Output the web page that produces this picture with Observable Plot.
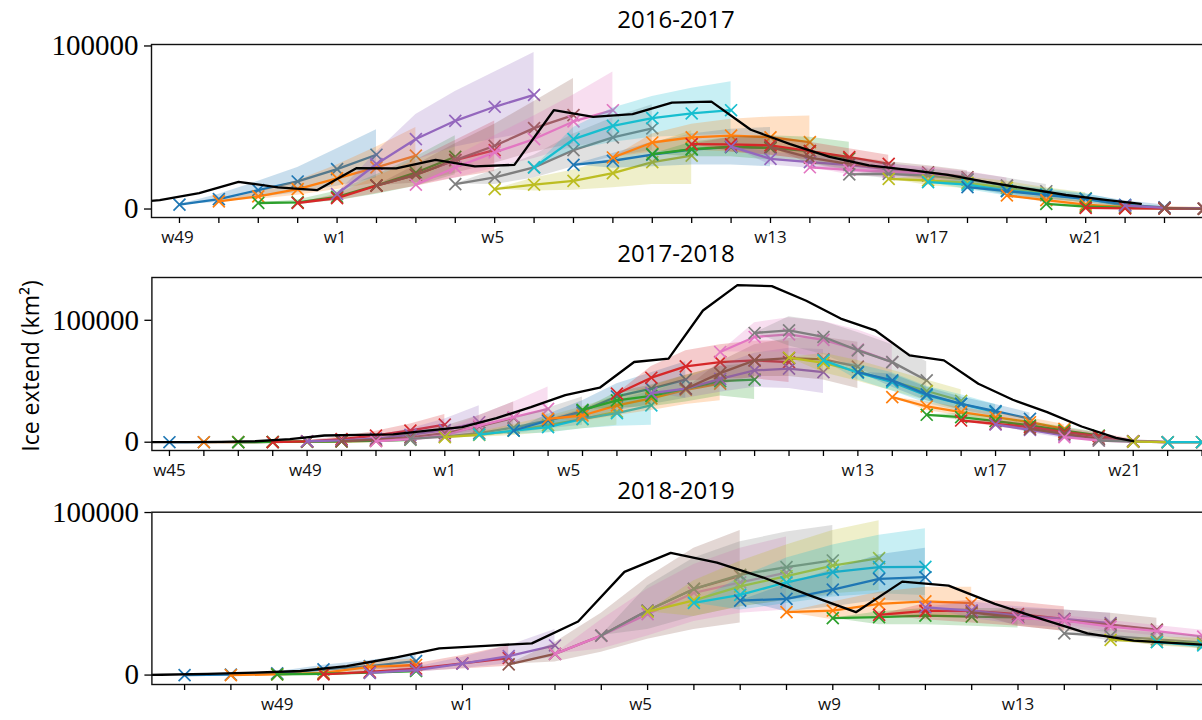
<!DOCTYPE html>
<html><head><meta charset="utf-8">
<script src="https://cdn.jsdelivr.net/npm/d3@7"></script>
<script src="https://cdn.jsdelivr.net/npm/@observablehq/plot@0.6"></script>
<style>
body{margin:0;background:#fff;}
#wrap{position:relative;width:1202px;height:720px;overflow:hidden;background:#fff;font-family:"Open Sans",sans-serif;}
.panel{position:absolute;left:0;}
.title{position:absolute;font-size:24px;color:#000;transform:translate(-50%,-50%);white-space:nowrap;line-height:1;}
.ylab{position:absolute;font-size:23px;color:#000;transform:translate(-50%,-50%) rotate(-90deg);white-space:nowrap;line-height:1;}
</style></head>
<body><div id="wrap"></div>
<script>
const TAB10 = ["#1f77b4","#ff7f0e","#2ca02c","#d62728","#9467bd","#8c564b","#e377c2","#7f7f7f","#bcbd22","#17becf"];
const titles = ["2016-2017","2017-2018","2018-2019"];
const yLabel = "Ice extend (km²)";
const yTicks = [0, 100000];

// ---------- 2016-2017 ----------
const p1Ticks = [0,1,2,3,4,5,6,7,8,9,10,11,12,13,14,15,16,17,18,19,20,21,22,23,24,25,26];
const p1Labels = ["w49","w1","w5","w13","w17","w21"];
const p1LabelPos = [-0.05, 3.95, 7.95, 15, 19.1, 23];
const p1ObsX = [-1.5,-0.5,0.5,1.5,2.5,3.5,4.5,5.5,6.5,7.5,8.5,9.5,10.5,11.5,12.5,13.5,14.5,15.5,16.5,17.5,18.5,19.5,20.5,21.5,22.5,23.5,24.4];
const p1ObsY = [3200,5500,9800,16700,13300,11600,25100,24900,30200,26100,27100,60600,56500,58200,65300,65900,48600,39800,32000,26800,24000,21000,16500,12500,8600,5600,3200];
const p1Starts = [0,1,2,3,4,5,6,7,8,9,10,11,12,13,14,15,16,17,18,19,20,21,22,23,24,25];
const p1Colors = [0,1,2,3,4,5,6,7,8,9,0,1,2,3,4,5,6,7,8,9,0,1,2,3,4,5];
const p1Mean = [
 [2700,6100,11600,16900,24500,33300],
 [4700,7800,12200,18800,25500,32700],
 [3700,4100,7500,14500,22400,32000],
 [3700,6700,14300,21000,30000,36100],
 [9200,27600,42900,54100,62700,70000],
 [14300,21000,30000,38800,49600,57600],
 [14900,25500,34700,42900,53700,60600],
 [15300,19400,25500,36100,43900,49400],
 [12200,14900,17300,22000,28800,32700],
 [25500,42900,51000,55700,58600,60600],
 [27100,29600,33300,36500,38000,37500],
 [31600,40800,44000,45000,44000,41000],
 [33700,36700,38200,37500,35500,31000],
 [39800,39600,39000,35500,31800,27700],
 [38300,30800,28700,27000,24500,21500],
 [38000,31500,27500,25000,22500,19500],
 [25600,24000,23000,21600,18500,14400],
 [21200,21500,20500,18000,14400,10900],
 [18500,17500,16000,13000,9500,6500],
 [16500,15000,11300,9000,6300,2100],
 [13400,11000,8500,6300,2500,1000],
 [8300,5500,2700,1200,500,300],
 [3200,1500,700,400,300,300],
 [700,400,300,300,300],
 [2100,700,300,300],
 [700,100,100]
];
const p1Hi = [
 [2700,9000,17000,25500,37000,48600],
 [4700,10500,17500,27000,38000,50000],
 [3700,5500,11000,21000,32000,45000],
 [3700,9000,20000,30000,42000,54000],
 [9200,35000,58000,72000,84000,96000],
 [14300,27000,40000,52000,66000,80000],
 [14900,32000,45000,57000,70000,84000],
 [15300,24000,33000,46000,56000,64000],
 [12200,19000,24000,31000,40000,48000],
 [25500,50000,62000,69000,74000,78000],
 [27100,34000,41000,46000,49000,50000],
 [31600,46000,52000,55000,56500,57000],
 [33700,41000,44000,45000,44000,41000],
 [39800,44000,45000,41000,37000,33000],
 [38300,35000,33000,31000,28000,25000],
 [38000,35500,32000,29000,26500,23500],
 [25600,27500,27000,26000,23000,19000],
 [21200,24500,24500,22500,19000,15000],
 [18500,20500,19500,17000,13000,10000],
 [16500,18000,15000,12500,9500,4500],
 [13400,13500,11500,9000,5000,2500],
 [8300,7500,4500,2500,1500,1000],
 [3200,2500,1500,1000,800,800],
 [700,900,800,800,800],
 [2100,1300,800,800],
 [700,500,500]
];
const p1Lo = [
 [2700,4000,7000,10000,14000,19000],
 [4700,6000,8500,12000,16000,20000],
 [3700,3000,5000,9000,14000,21000],
 [3700,5000,9500,14000,19000,23000],
 [9200,20000,30000,38000,43000,47000],
 [14300,16000,22000,28000,35000,40000],
 [14900,19000,25000,31000,38000,42000],
 [15300,15000,19000,26000,32000,36000],
 [12200,11000,11500,13000,15000,15000],
 [25500,36000,41000,44000,45000,46000],
 [27100,25000,26000,27000,27000,26000],
 [31600,35000,36000,35000,33000,30000],
 [33700,32000,32000,30000,28000,24000],
 [39800,35000,33000,30000,26500,22500],
 [38300,27000,25000,23000,21000,18000],
 [38000,27500,23500,21000,18500,15500],
 [25600,21000,19500,17500,14500,10500],
 [21200,18500,17000,14000,10500,7500],
 [18500,14500,12500,9500,6500,3500],
 [16500,12000,8000,6000,3500,500],
 [13400,8500,6000,4000,1000,0],
 [8300,3800,1500,500,0,0],
 [3200,800,200,0,0,0],
 [700,100,0,0,0],
 [2100,300,0,0],
 [700,0,0]
];

// ---------- 2017-2018 ----------
const p2Ticks = [0,1,2,3,4,5,6,7,8,9,10,11,12,13,14,15,16,17,18,19,20,21,22,23,24,25,26,27,28,29,30];
const p2Labels = ["w45","w49","w1","w5","w13","w17","w21"];
const p2LabelPos = [0, 3.95, 8, 11.6, 20, 23.85, 27.75];
const p2ObsX = [-1.5,-0.5,0.5,1.5,2.5,3.5,4.5,5.5,6.5,7.5,8.5,9.5,10.5,11.5,12.5,13.5,14.5,15.5,16.5,17.5,18.5,19.5,20.5,21.5,22.5,23.5,24.5,25.5,26.5,27.5,28];
const p2ObsY = [0,0,0,300,800,2500,5500,6000,6500,9500,12300,19700,28800,38600,44700,65800,68500,108000,128800,128000,116000,101400,91800,71200,67100,47900,34800,24700,12900,3500,800];
const p2Starts = [0,1,2,3,4,5,6,7,8,9,10,11,12,13,14,15,16,17,18,19,20,21,22,23,24,25,26,27,28,29];
const p2Colors = [0,1,2,3,4,5,6,7,8,9,0,1,2,3,4,5,6,7,8,9,0,1,2,3,4,5,6,7,8,9];
const p2Mean = [
 [0,0,100,200,400,700],
 [0,100,200,400,700,1200],
 [0,200,400,800,1200,2000],
 [0,700,2500,5500,9600,14500],
 [800,1500,3000,6000,10000,16400],
 [800,2000,4000,7500,13000,20000],
 [800,2500,5500,13700,20500,27400],
 [2700,4500,7500,12000,18000,24000],
 [4100,6000,9500,14000,19000,25000],
 [6300,9500,12300,19200,23800,30200],
 [9600,17800,25500,37500,43900,51300],
 [19200,21900,30200,36000,43000,48000],
 [26600,34300,38000,44000,50100,51300],
 [39800,52900,62200,65700,67100,65700],
 [40300,44000,52000,58900,60300,57500],
 [43900,56700,67100,69000,68000,62000],
 [74000,86300,88500,84000,76000,65700],
 [89600,91800,86300,75300,65700,50700],
 [69300,65000,58000,50000,42000,34000],
 [67100,57000,49300,38400,31500,24700],
 [57500,50700,39200,31500,25500,19200],
 [37000,29300,24700,20500,16400,11000],
 [22500,20500,17300,13700,9500,5500],
 [17800,15100,12300,8200,4900,800],
 [14500,10100,5500,2700,800,0],
 [11000,6800,2700,800,0,0],
 [4100,1400,500,0,0],
 [1400,500,0,0],
 [500,0,0,0],
 [0,0,0]
];
const p2Hi = [
 [0,200,400,700,1200,2000],
 [0,300,600,1100,1800,2800],
 [0,500,1100,2000,3000,4500],
 [0,1500,4500,9000,15000,22700],
 [800,2500,5500,11000,19000,30000],
 [800,3500,7000,13000,22000,33000],
 [800,4500,10000,22000,33000,45200],
 [2700,6500,11500,19000,28000,37000],
 [4100,8500,14500,21000,29000,38000],
 [6300,13000,18000,27000,34000,42000],
 [9600,23000,34000,48000,57000,66000],
 [19200,27000,38000,46000,55000,62000],
 [26600,41000,47000,55000,62000,65000],
 [39800,62000,75000,80000,83000,83000],
 [40300,52000,63000,73000,77000,76000],
 [43900,66000,80000,85000,86000,82000],
 [74000,98000,102000,99000,92000,82000],
 [89600,103000,99000,90000,80000,66000],
 [69300,73000,67000,59000,51000,43000],
 [67100,64000,57000,46000,39000,31000],
 [57500,56000,45000,37000,31000,24000],
 [37000,33000,28500,24000,20000,14500],
 [22500,23500,20500,17000,12500,8000],
 [17800,18000,15500,11500,7500,2500],
 [14500,13000,8500,5000,2000,500],
 [11000,9000,5000,2000,500,300],
 [4100,2800,1500,500,300],
 [1400,1200,500,300],
 [500,400,300,300],
 [0,200,200]
];
const p2Lo = [
 [0,0,0,0,100,200],
 [0,0,0,100,200,400],
 [0,0,100,300,500,800],
 [0,200,1200,3000,5500,9000],
 [800,800,1500,3000,5500,9000],
 [800,1000,2000,4000,7000,11000],
 [800,1200,3000,8000,12000,16000],
 [2700,3000,4500,7000,11000,14000],
 [4100,4000,5500,8000,11000,14000],
 [6300,6500,7500,11000,13000,14000],
 [9600,13000,18000,26000,31000,36000],
 [19200,17000,22000,26000,31000,34000],
 [26600,28000,29000,33000,38000,35000],
 [39800,44000,50000,52000,52000,49000],
 [40300,36000,41000,45000,44000,40000],
 [43900,47000,54000,54000,51000,44000],
 [74000,74000,74000,68000,60000,50000],
 [89600,79000,72000,60000,50000,37000],
 [69300,57000,50000,42000,34000,26000],
 [67100,51000,42000,32000,25000,19000],
 [57500,45000,34000,26500,21000,15000],
 [37000,26000,21500,17500,13000,8000],
 [22500,17500,14000,10500,6500,3000],
 [17800,12500,9500,5500,2500,0],
 [14500,7500,3000,1000,0,0],
 [11000,5000,1000,0,0,0],
 [4100,500,0,0,0],
 [1400,0,0,0],
 [500,0,0,0],
 [0,0,0]
];

// ---------- 2018-2019 ----------
const p3Ticks = [0,1,2,3,4,5,6,7,8,9,10,11,12,13,14,15,16,17,18,19,20,21,22];
const p3Labels = ["w49","w1","w5","w9","w13"];
const p3LabelPos = [2, 6, 9.85, 13.93, 18];
const p3ObsX = [-1.5,-0.5,0.5,1.5,2.5,3.5,4.5,5.5,6.5,7.5,8.5,9.5,10.5,11.5,12.5,13.5,14.5,15.5,16.5,17.5,18.5,19.5,20.5,21.5,22.5];
const p3ObsY = [0,200,700,1500,2500,5500,10500,16400,18000,19500,33000,63500,75200,69200,60000,49000,38700,57500,55000,43800,34600,25700,21200,19500,18000];
const p3Starts = [0,1,2,3,4,7,8,9,10,11,12,13,14,15,16,17,18,19,20,21];
const p3Colors = [0,1,2,3,4,5,6,7,8,9,0,1,2,3,4,5,6,7,8,9];
const p3Mean = [
 [0,300,1000,3500,5500,8600],
 [0,400,1400,5100,6200],
 [400,800,1500,2500],
 [400,2000,3900,7200,10500],
 [1400,3100,7000,11700,18200],
 [6600,13000,24300,39700,53000,61000],
 [13000,24300,37500,50600,57000,63000],
 [24300,39700,53000,61600,66400,70500],
 [39000,46000,54600,60800,67400,71900],
 [44400,49300,57100,63300,66400,66600],
 [45800,46900,52600,59200,60200],
 [38700,39700,43800,45400,44200],
 [35000,35600,36600,36000,35500],
 [37000,39500,39500,37500,34500],
 [41700,39700,36500,34500,32000],
 [38500,35500,33500,31000,28000],
 [35200,33500,29800,27000,23700],
 [25700,24000,22000,20000,18000],
 [21700,20500,19000,17500],
 [20200,18200,16500]
];
const p3Hi = [
 [0,600,2000,6000,9000,13000],
 [0,900,2500,8000,10000],
 [400,1300,2500,4000],
 [400,3500,7000,12000,18000],
 [1400,5000,11000,18000,28000],
 [6600,20000,38000,60000,78000,89000],
 [13000,34000,53000,68000,78000,85000],
 [24300,55000,72000,82000,88000,92000],
 [39000,58000,70000,80000,89000,95000],
 [44400,60000,72000,80000,86000,90000],
 [45800,56000,65000,74000,78000],
 [38700,45000,51000,54000,54000],
 [35000,39000,41000,41000,41000],
 [37000,44000,46000,45000,42000],
 [41700,45000,42000,40000,38000],
 [38500,41000,40000,38000,35000],
 [35200,36500,33500,30500,27500],
 [25700,28000,26000,24000,22000],
 [21700,23500,22500,21000],
 [20200,20500,19500]
];
const p3Lo = [
 [0,100,400,1800,3000,5000],
 [0,100,700,3000,3500],
 [400,400,800,1300],
 [400,1000,2000,3800,5500],
 [1400,1800,4000,7000,11000],
 [6600,8000,14000,22000,28000,32000],
 [13000,16000,24000,33000,38000,40000],
 [24300,28000,36000,42000,46000,49000],
 [39000,36000,42000,46000,50000,52000],
 [44400,40000,44000,48000,50000,49000],
 [45800,39000,42000,46000,45000],
 [38700,34000,36000,37000,35000],
 [35000,31000,31000,30000,29000],
 [37000,34000,32000,30000,27000],
 [41700,35000,31000,29000,26000],
 [38500,30000,27000,24500,21500],
 [35200,31000,27000,24000,20500],
 [25700,21000,18500,16500,14500],
 [21700,18000,16000,14500],
 [20200,16000,14000]
];

function makePanel(c) {
  const marks = [];
  c.starts.forEach((s, j) => {
    const rows = c.mean[j].map((v, k) => ({x: s + k, y: v, lo: c.lo[j][k], hi: c.hi[j][k]}));
    const col = TAB10[c.colors[j]];
    marks.push(Plot.areaY(rows, {x: "x", y1: "lo", y2: "hi", fill: col, fillOpacity: 0.24, clip: true}));
    marks.push(Plot.line(rows, {x: "x", y: "y", stroke: col, strokeWidth: 2.3, clip: true}));
    marks.push(Plot.dot(rows, {x: "x", y: "y", symbol: "times", stroke: col, r: 5.5, strokeWidth: 1.7, clip: true}));
  });
  const obs = c.obsX.map((x, k) => ({x, y: c.obsY[k]}));
  marks.push(Plot.line(obs, {x: "x", y: "y", stroke: "#000", strokeWidth: 2.3, clip: true}));
  marks.push(Plot.frame({stroke: "#111", strokeWidth: 1.4}));
  marks.push(Plot.axisX({ticks: c.ticks, tickSize: 6, tickFormat: () => "", label: null, strokeWidth: 1.3}));
  marks.push(Plot.axisY({ticks: yTicks, tickSize: 7, tickPadding: 6, tickFormat: d => String(d), fontSize: 29, fontFamily: "Liberation Serif", label: null, strokeWidth: 1.3}));
  marks.push(Plot.text(c.labels.map((t, k) => ({x: c.labelPos[k], t})), {x: "x", text: "t", frameAnchor: "bottom", dy: 25, fontSize: 17, fontFamily: "Open Sans", fill: "#111"}));
  const svg = Plot.plot({
    width: 1260, height: c.height,
    marginLeft: c.mLeft, marginRight: c.mRight, marginTop: c.mTop, marginBottom: c.mBottom,
    x: {domain: c.xDomain},
    y: {domain: c.yDomain},
    style: {maxWidth: "none", background: "transparent", overflow: "visible", fontFamily: "Open Sans"},
    marks
  });
  svg.classList.add("panel");
  svg.style.top = c.top + "px";
  return svg;
}

const wrap = document.getElementById("wrap");
wrap.appendChild(makePanel({
  top: 0, height: 260, mLeft: 151, mRight: 17.2, mTop: 44, mBottom: 43,
  xDomain: [-0.71, 27], yDomain: [-5200, 100900],
  ticks: p1Ticks, labels: p1Labels, labelPos: p1LabelPos,
  obsX: p1ObsX, obsY: p1ObsY, starts: p1Starts, colors: p1Colors, mean: p1Mean, hi: p1Hi, lo: p1Lo
}));
wrap.appendChild(makePanel({
  top: 260, height: 228, mLeft: 151.4, mRight: 24, mTop: 17, mBottom: 38,
  xDomain: [-0.51, 31], yDomain: [-6800, 135100],
  ticks: p2Ticks, labels: p2Labels, labelPos: p2LabelPos,
  obsX: p2ObsX, obsY: p2ObsY, starts: p2Starts, colors: p2Colors, mean: p2Mean, hi: p2Hi, lo: p2Lo
}));
wrap.appendChild(makePanel({
  top: 488, height: 232, mLeft: 151.4, mRight: 11, mTop: 23.7, mBottom: 36,
  xDomain: [-0.706, 23], yDomain: [-5800, 100200],
  ticks: p3Ticks, labels: p3Labels, labelPos: p3LabelPos,
  obsX: p3ObsX, obsY: p3ObsY, starts: p3Starts, colors: p3Colors, mean: p3Mean, hi: p3Hi, lo: p3Lo
}));

const titleY = [18.7, 253, 490];
titles.forEach((t, k) => {
  const d = document.createElement("div");
  d.className = "title"; d.textContent = t;
  d.style.left = "676px"; d.style.top = titleY[k] + "px";
  wrap.appendChild(d);
});
const yl = document.createElement("div");
yl.className = "ylab"; yl.textContent = yLabel;
yl.style.left = "30px"; yl.style.top = "366px";
wrap.appendChild(yl);
</script></body></html>
